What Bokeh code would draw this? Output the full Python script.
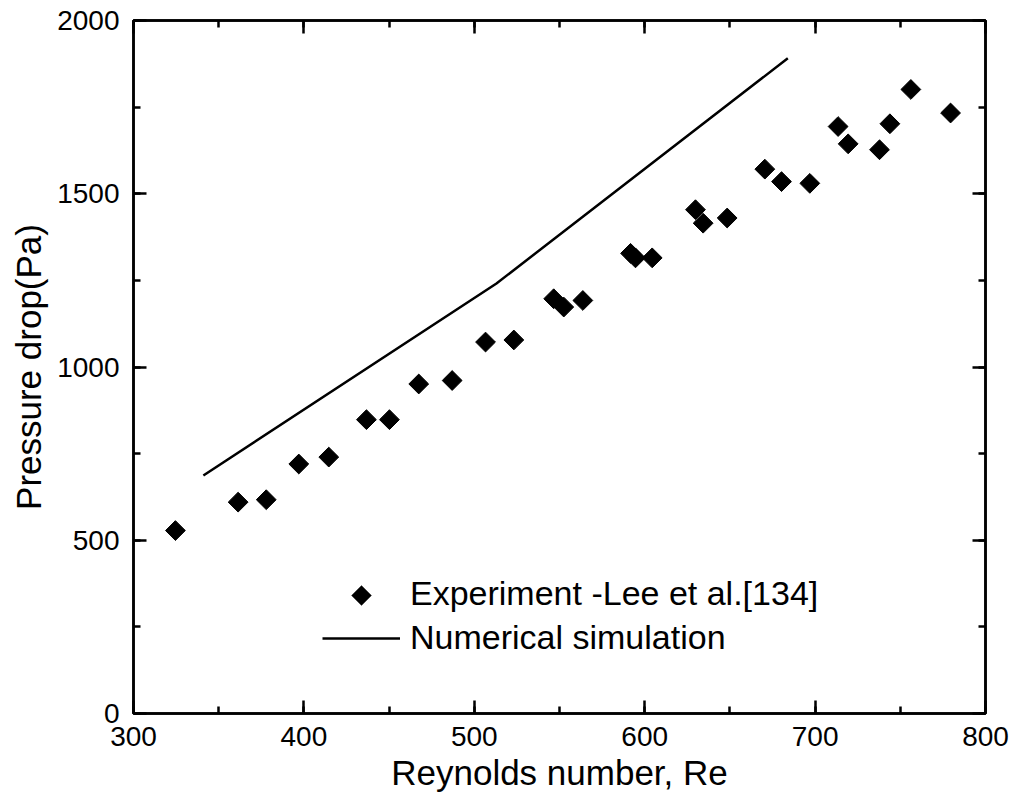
from bokeh.plotting import figure
from bokeh.models import (Range1d, SingleIntervalTicker, LinearAxis, Legend,
                          LegendItem, PolyAnnotation, CustomJSTickFormatter)
from bokeh.embed import file_html
from bokeh.resources import INLINE

# Experimental data (Lee et al. [134])
exp_re = [324.6, 361.4, 377.9, 397.0, 414.6, 436.7, 450.2, 467.4, 487.0, 506.6,
          523.2, 546.6, 552.5, 563.7, 591.7, 594.6, 604.4, 629.8, 634.3, 648.4,
          670.5, 680.3, 696.9, 713.5, 719.4, 737.8, 743.9, 756.2, 779.5]
exp_dp = [528, 610, 617, 720, 740, 848, 848, 951, 961, 1072,
          1078, 1197, 1173, 1192, 1328, 1315, 1315, 1454, 1415, 1430,
          1571, 1535, 1530, 1694, 1644, 1627, 1702, 1801, 1733]

# Numerical simulation
sim_re = [341, 513, 684]
sim_dp = [687, 1241, 1891]

x_ticks_interval = 100
y_ticks_interval = 500

FONT = "Liberation Sans"

p = figure(width=1013, height=803, output_backend="svg", toolbar_location=None,
           x_range=Range1d(300, 800), y_range=Range1d(0, 2000),
           min_border_left=133, min_border_right=28, min_border_top=20,
           min_border_bottom=90, background_fill_color="white",
           border_fill_color="white")
p.grid.visible = False
p.outline_line_color = "black"
p.outline_line_width = 2.5

def style_axis(ax, interval, show_labels):
    ax.ticker = SingleIntervalTicker(interval=interval, num_minor_ticks=2)
    ax.axis_line_width = 2.5
    ax.axis_line_color = "black"
    ax.major_tick_in = 13
    ax.major_tick_out = 0
    ax.minor_tick_in = 7
    ax.minor_tick_out = 0
    ax.major_tick_line_width = 2.5
    ax.minor_tick_line_width = 2.5
    ax.major_tick_line_color = "black"
    ax.minor_tick_line_color = "black"
    ax.major_label_text_font = FONT
    ax.major_label_text_color = "black"
    ax.axis_label_text_font = FONT
    ax.axis_label_text_font_style = "normal"
    ax.axis_label_text_color = "black"
    if show_labels:
        ax.major_label_text_font_size = "28px"
        ax.axis_label_text_font_size = "35px"
    else:
        ax.formatter = CustomJSTickFormatter(code="return ''")
        ax.major_label_text_font_size = "1px"
        ax.major_label_standoff = 0
        ax.axis_label = None

xa = p.xaxis[0]
ya = p.yaxis[0]
style_axis(xa, x_ticks_interval, True)
style_axis(ya, y_ticks_interval, True)
xa.axis_label = "Reynolds number, Re"
ya.axis_label = "Pressure drop(Pa)"
xa.major_label_standoff = 13
ya.major_label_standoff = 14
xa.axis_label_standoff = 4
ya.axis_label_standoff = 6

top = LinearAxis()
right = LinearAxis()
style_axis(top, x_ticks_interval, False)
style_axis(right, y_ticks_interval, False)
p.add_layout(top, "above")
p.add_layout(right, "right")

sc = p.scatter(exp_re, exp_dp, marker="square", angle=0.785398, size=14,
               fill_color="black", line_color="black")
ln = p.line(sim_re, sim_dp, line_color="black", line_width=2.5)

legend = Legend(items=[LegendItem(label="Experiment -Lee et al.[134]", renderers=[sc]),
                       LegendItem(label="Numerical simulation", renderers=[ln])],
                location=(189, 56))
legend.label_text_font = FONT
legend.label_text_font_size = "34px"
legend.label_text_color = "black"
legend.glyph_width = 78
legend.glyph_height = 12
legend.label_height = 38
legend.spacing = 5
legend.label_standoff = 10
legend.padding = 0
legend.margin = 0
legend.border_line_color = None
legend.background_fill_alpha = 0
p.add_layout(legend, "center")

# rotated-square legend symbol (legend glyphs are drawn unrotated by Bokeh)
cx, cy, r = 189 + 39, 118, 10
diamond = PolyAnnotation(xs=[cx - r, cx, cx + r, cx], ys=[cy, cy + r, cy, cy - r],
                         xs_units="screen", ys_units="screen",
                         fill_color="black", fill_alpha=1.0,
                         line_color="black", line_width=1)
p.add_layout(diamond, "center")

open("out.html", "w").write(file_html(p, INLINE))
